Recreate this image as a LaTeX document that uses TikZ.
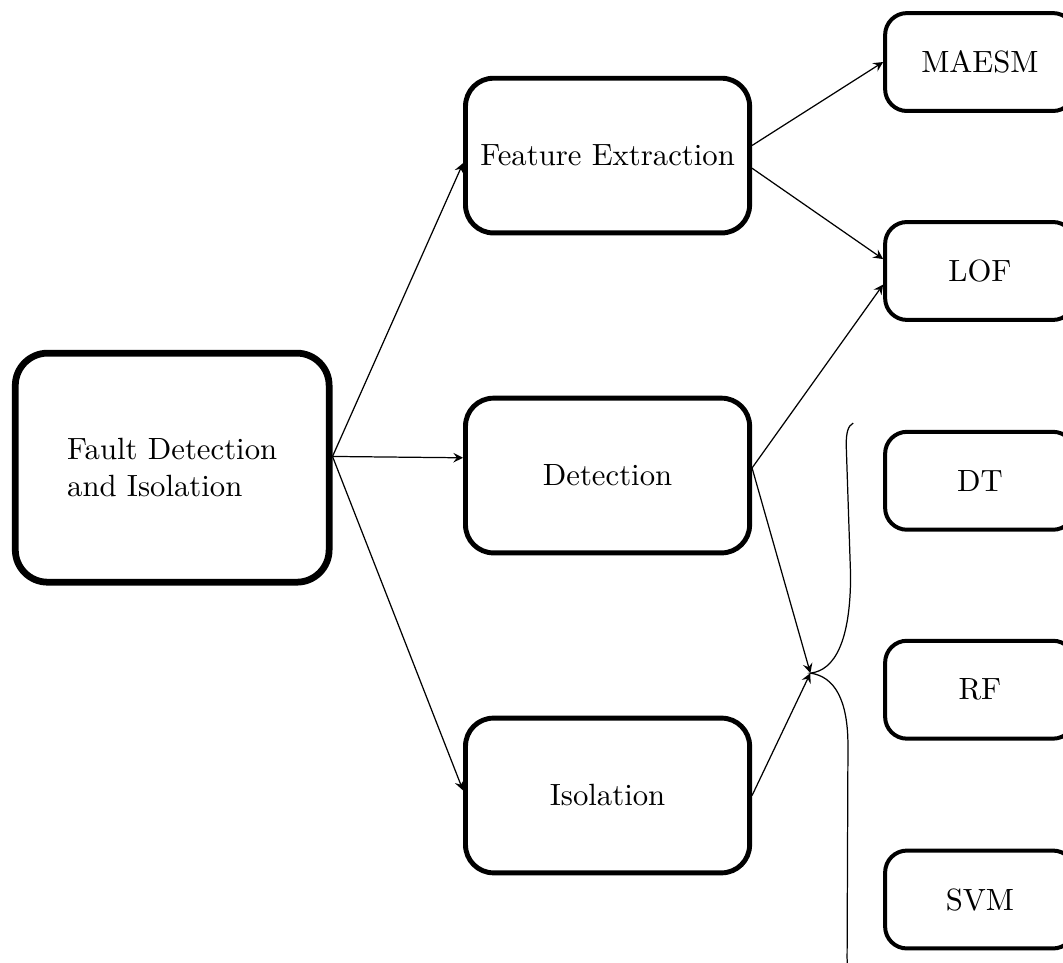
\documentclass[tikz,border=0pt]{standalone}
\usepackage{tikz}
\usetikzlibrary{arrows}
\tikzstyle{arrow} = [->,>=stealth]
\tikzstyle{mainbox} = [draw, line width=2.2pt, rounded corners=0.37cm, minimum width=3.59cm, minimum height=2.62cm, align=left]
\tikzstyle{stagebox} = [draw, line width=1.6pt, rounded corners=0.32cm, minimum width=3.25cm, minimum height=1.77cm]
\tikzstyle{methodbox} = [draw, line width=1.3pt, rounded corners=0.25cm, minimum width=2.17cm, minimum height=1.12cm]

\begin{document}
\begin{tikzpicture}
    \useasboundingbox (0,0) rectangle (12.16,11.01);
    % boxes
    \node[mainbox] (fdi) at (1.97,5.66) {Fault Detection\\and Isolation};
    \node[stagebox] (fe) at (6.95,9.23) {Feature Extraction};
    \node[stagebox] (det) at (6.95,5.57) {Detection};
    \node[stagebox] (iso) at (6.95,1.91) {Isolation};
    \node[methodbox] (maesm) at (11.21,10.30) {MAESM};
    \node[methodbox] (lof) at (11.21,7.91) {LOF};
    \node[methodbox] (dt) at (11.21,5.51) {DT};
    \node[methodbox] (rf) at (11.21,3.12) {RF};
    \node[methodbox] (svm) at (11.21,0.72) {SVM};
    \coordinate (tip) at (9.27,3.31);
    % arrows
    \draw [arrow] (fdi.4) -- (fe.183);
    \draw [arrow] (fdi.4) -- (det.173);
    \draw [arrow] (fdi.4) -- (iso.178);
    \draw [arrow] (fe.4) -- (maesm.west);
    \draw [arrow] (fe.-5) -- (lof.173);
    \draw [arrow] (det.3) -- (lof.188);
    \draw [arrow] (det.3) -- (tip);
    \draw [arrow] (iso.east) -- (tip);
    % brace
    \draw (9.76,6.17) .. controls (9.70,6.14) and (9.68,6.06) .. (9.68,5.92)
        -- (9.73,4.43) .. controls (9.73,3.68) and (9.55,3.34) .. (tip)
        .. controls (9.55,3.27) and (9.70,3.00) .. (9.70,2.48)
        -- (9.69,0.05) .. controls (9.69,-0.08) and (9.72,-0.15) .. (9.78,-0.18);
\end{tikzpicture}
\end{document}
